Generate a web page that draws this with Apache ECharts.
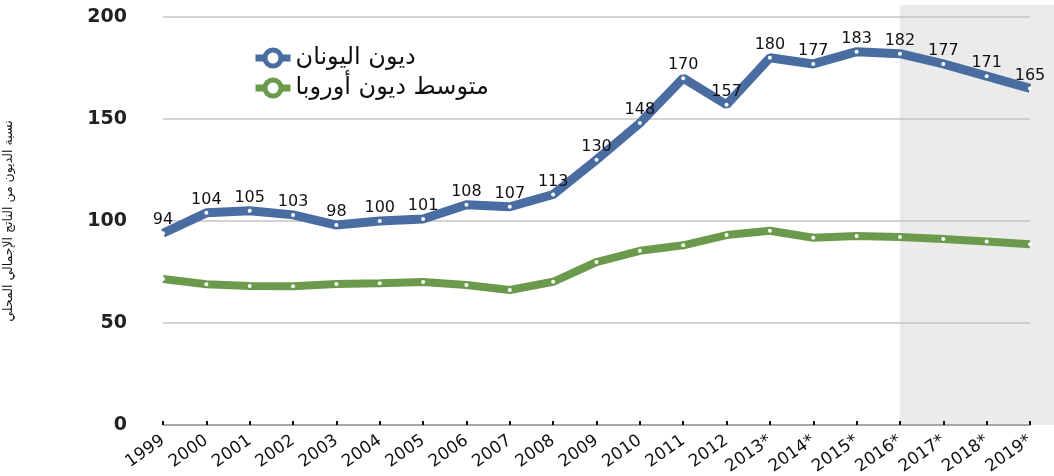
<!DOCTYPE html>
<html>
<head>
  <meta charset="utf-8">
  <title>ديون اليونان</title>
  <script src="https://cdn.jsdelivr.net/npm/echarts@6/dist/echarts.min.js"></script>
  <style type="text/css">
    body {
      margin: 0;
      background: #fff;
    }

    #chart {
      width: 1054px;
      height: 476px;
    }
  </style>
</head>
<body>
<div id="chart"></div>
<script>
  // السنوات
  var years = ['1999', '2000', '2001', '2002', '2003', '2004', '2005', '2006', '2007', '2008', '2009',
    '2010', '2011', '2012', '2013*', '2014*', '2015*', '2016*', '2017*', '2018*', '2019*'];
  // ديون اليونان
  var greece = [94, 104, 105, 103, 98, 100, 101, 108, 107, 113, 130, 148, 170, 157, 180, 177, 183, 182, 177, 171, 165];
  // متوسط ديون أوروبا
  var europe = [71.6, 69, 68.1, 68, 69.1, 69.5, 70.1, 68.6, 66.2, 70.2, 79.9, 85.4, 88.1, 93.1, 95.2, 91.8, 92.6, 92.2, 91.2, 90, 88.6];
  var yTicks = [0, 50, 100, 150, 200];
  var forecastFrom = '2016*';

  var blue = '#4a6da1';
  var green = '#6c9a4c';
  var wide = 'DejaVu Sans, sans-serif';
  var arabic = 'DejaVu Sans, sans-serif';

  var chart = echarts.init(document.getElementById('chart'));

  var option = {
    animation: false,
    grid: {left: 163, right: 24, top: 17, bottom: 51, outerBoundsMode: 'none'},
    legend: {
      orient: 'vertical',
      left: 247,
      top: 41,
      itemWidth: 35,
      itemHeight: 20,
      itemGap: 6,
      backgroundColor: '#fff',
      textStyle: {fontFamily: arabic, fontSize: 24, lineHeight: 22, color: '#111'},
      data: [
        {name: 'ديون اليونان',
          lineStyle: {width: 7},
          itemStyle: {color: '#fff', borderColor: blue, borderWidth: 5}},
        {name: 'متوسط ديون أوروبا',
          lineStyle: {width: 7},
          itemStyle: {color: '#fff', borderColor: green, borderWidth: 5}}
      ]
    },
    xAxis: {
      type: 'category',
      data: years,
      boundaryGap: false,
      axisLine: {lineStyle: {color: '#999', width: 1.5}},
      axisTick: {inside: true, length: 4, lineStyle: {color: '#111', width: 2}},
      axisLabel: {rotate: 35, margin: 14, fontSize: 17, color: '#111', fontFamily: wide, interval: 0}
    },
    yAxis: {
      type: 'value',
      min: yTicks[0],
      max: yTicks[yTicks.length - 1],
      interval: 50,
      name: 'نسبة الديون من الناتج الإجمالي المحلي',
      nameLocation: 'middle',
      nameGap: 148,
      nameTextStyle: {fontFamily: arabic, fontSize: 12.5, color: '#111'},
      axisLine: {show: false},
      axisTick: {show: false},
      axisLabel: {margin: 36, fontSize: 19, fontWeight: 'bold', color: '#222', fontFamily: wide},
      splitLine: {lineStyle: {color: '#c4c4c4', width: 1.5}}
    },
    series: [
      {
        name: 'ديون اليونان',
        type: 'line',
        data: greece,
        color: blue,
        lineStyle: {color: blue, width: 9},
        symbol: 'circle',
        symbolSize: 4,
        itemStyle: {color: '#fff', borderWidth: 0},
        label: {
          show: true,
          position: 'top',
          distance: 3,
          fontSize: 16,
          color: '#111',
          fontFamily: wide
        },
        z: 3
      },
      {
        name: 'متوسط ديون أوروبا',
        type: 'line',
        data: europe,
        color: green,
        lineStyle: {color: green, width: 8},
        symbol: 'circle',
        symbolSize: 4,
        itemStyle: {color: '#fff', borderWidth: 0},
        z: 2
      }
    ]
  };

  chart.setOption(option);

  // تظليل سنوات التوقع
  var x0 = chart.convertToPixel({xAxisIndex: 0}, forecastFrom);
  var yBase = chart.convertToPixel({yAxisIndex: 0}, yTicks[0]);
  var yTop = chart.convertToPixel({yAxisIndex: 0}, yTicks[yTicks.length - 1]) - 12;
  chart.setOption({
    graphic: [{
      type: 'rect',
      z: -10,
      silent: true,
      shape: {x: x0, y: yTop, width: chart.getWidth() - x0, height: yBase - yTop},
      style: {fill: '#ebebeb'}
    }]
  });
</script>
</body>
</html>
